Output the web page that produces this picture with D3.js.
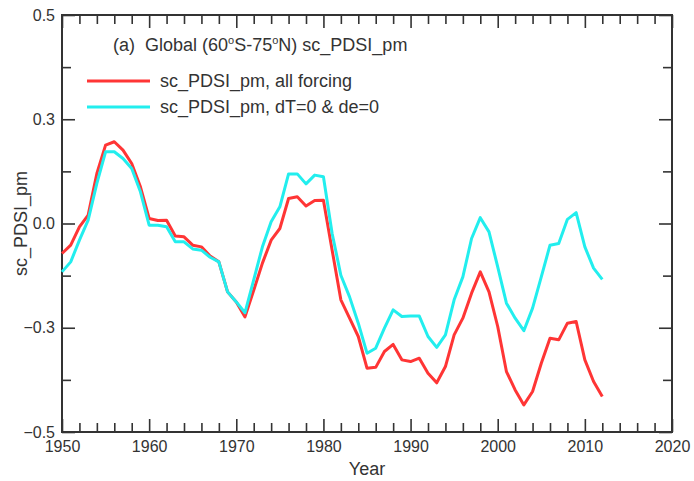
<!DOCTYPE html>
<html>
<head>
<meta charset="utf-8">
<script src="https://cdn.jsdelivr.net/npm/d3@7"></script>
<style>
  body { margin: 0; background: #fff; }
  text { font-family: "Liberation Sans", Arial, Helvetica, sans-serif; fill: #333; }
</style>
</head>
<body>
<div id="chart"></div>
<script>
// data
var years = d3.range(1950, 2013);

var allForcing = [
  -0.072, -0.052, -0.008, 0.020, 0.120, 0.188, 0.196, 0.176, 0.144, 0.088,
  0.012, 0.007, 0.008, -0.030, -0.032, -0.052, -0.056, -0.078, -0.092, -0.164,
  -0.188, -0.224, -0.160, -0.095, -0.040, -0.012, 0.060, 0.064, 0.042, 0.055,
  0.056, -0.064, -0.183, -0.227, -0.271, -0.347, -0.345, -0.307, -0.290, -0.327,
  -0.331, -0.323, -0.359, -0.382, -0.343, -0.267, -0.227, -0.167, -0.116, -0.164,
  -0.247, -0.355, -0.399, -0.435, -0.403, -0.335, -0.275, -0.279, -0.239, -0.235,
  -0.327, -0.379, -0.415
];

var noTempE = [
  -0.116, -0.092, -0.040, 0.008, 0.096, 0.172, 0.172, 0.156, 0.132, 0.076,
  -0.004, -0.004, -0.008, -0.044, -0.044, -0.061, -0.064, -0.081, -0.092, -0.164,
  -0.188, -0.214, -0.135, -0.056, 0.004, 0.040, 0.119, 0.119, 0.095, 0.116,
  0.112, -0.024, -0.124, -0.176, -0.239, -0.311, -0.299, -0.251, -0.207, -0.223,
  -0.222, -0.222, -0.271, -0.297, -0.267, -0.183, -0.128, -0.036, 0.014, -0.020,
  -0.104, -0.191, -0.227, -0.257, -0.203, -0.128, -0.052, -0.048, 0.010, 0.026,
  -0.056, -0.107, -0.134
];

var seriesNames = ["sc_PDSI_pm, all forcing", "sc_PDSI_pm, dT=0 & de=0"];
var seriesColors = ["#ff3535", "#22eeee"];

var xTicks = [1950, 1960, 1970, 1980, 1990, 2000, 2010, 2020];
var yTicks = [-0.5, -0.25, 0, 0.25, 0.5];
var yTickLabels = ["\u22120.5", "\u22120.3", "0.0", "0.3", "0.5"];

var W = 694, H = 481;
var margin = {left: 62, top: 15, right: 22, bottom: 49};
var w = W - margin.left - margin.right,
    h = H - margin.top - margin.bottom;

var svg = d3.select("#chart").append("svg")
    .attr("width", W)
    .attr("height", H);

var g = svg.append("g")
    .attr("transform", "translate(" + margin.left + "," + margin.top + ")");

var x = d3.scaleLinear().domain([1950, 2020]).range([0, w]);
var y = d3.scaleLinear().domain([-0.5, 0.5]).range([h, 0]);

var minorX = d3.range(1950, 2021, 2).filter(function(d) { return d % 10 != 0; });
var minorY = d3.range(-0.5, 0.5001, 0.125).filter(function(d) {
  return yTicks.indexOf(Math.round(d * 1000) / 1000) < 0;
});

function styleAxis(sel) {
  sel.select(".domain").remove();
  sel.selectAll("line").attr("stroke", "#333").attr("stroke-width", 1.6);
  sel.selectAll("text").style("font-size", "16px").attr("fill", "#333");
}

// bottom
g.append("g").attr("transform", "translate(0," + h + ")")
  .call(d3.axisBottom(x).tickValues(xTicks).tickSize(-13).tickPadding(9).tickFormat(d3.format("d")))
  .call(styleAxis);
g.append("g").attr("transform", "translate(0," + h + ")")
  .call(d3.axisBottom(x).tickValues(minorX).tickSize(-9).tickFormat(""))
  .call(styleAxis);
// top
g.append("g")
  .call(d3.axisTop(x).tickValues(xTicks).tickSize(-13).tickFormat(""))
  .call(styleAxis);
g.append("g")
  .call(d3.axisTop(x).tickValues(minorX).tickSize(-9).tickFormat(""))
  .call(styleAxis);
// left
g.append("g")
  .call(d3.axisLeft(y).tickValues(yTicks).tickSize(-13).tickPadding(7)
    .tickFormat(function(d, i) { return yTickLabels[i]; }))
  .call(styleAxis);
g.append("g")
  .call(d3.axisLeft(y).tickValues(minorY).tickSize(-9).tickFormat(""))
  .call(styleAxis);
// right
g.append("g").attr("transform", "translate(" + w + ",0)")
  .call(d3.axisRight(y).tickValues(yTicks).tickSize(-13).tickFormat(""))
  .call(styleAxis);
g.append("g").attr("transform", "translate(" + w + ",0)")
  .call(d3.axisRight(y).tickValues(minorY).tickSize(-9).tickFormat(""))
  .call(styleAxis);

g.append("rect")
  .attr("width", w).attr("height", h)
  .attr("fill", "none")
  .attr("stroke", "#333")
  .attr("stroke-width", 2);

// lines
var line = d3.line()
  .x(function(d, i) { return x(years[i]); })
  .y(function(d) { return y(d); });

[allForcing, noTempE].forEach(function(s, i) {
  g.append("path")
    .datum(s)
    .attr("d", line)
    .attr("fill", "none")
    .attr("stroke", seriesColors[i])
    .attr("stroke-width", 3)
    .attr("stroke-linejoin", "round");
});

// title
var title = svg.append("text")
  .attr("x", 113).attr("y", 51)
  .attr("xml:space", "preserve")
  .style("white-space", "pre")
  .style("font-size", "18px");
title.append("tspan").text("(a)  Global (60");
title.append("tspan").text("o").attr("dy", -7).style("font-size", "11px");
title.append("tspan").text("S-75").attr("dy", 7);
title.append("tspan").text("o").attr("dy", -7).style("font-size", "11px");
title.append("tspan").text("N) sc_PDSI_pm").attr("dy", 7);

// legend
seriesNames.forEach(function(name, i) {
  var ly = 81 + i * 26;
  svg.append("line")
    .attr("x1", 87).attr("x2", 150)
    .attr("y1", ly).attr("y2", ly)
    .attr("stroke", seriesColors[i])
    .attr("stroke-width", 3);
  svg.append("text")
    .attr("x", 160).attr("y", ly + 6)
    .style("font-size", "18px")
    .text(name);
});

// axis titles
svg.append("text")
  .attr("x", margin.left + w / 2).attr("y", 475)
  .attr("text-anchor", "middle")
  .style("font-size", "18px")
  .text("Year");

svg.append("text")
  .attr("transform", "translate(27," + (margin.top + h / 2) + ") rotate(-90)")
  .attr("text-anchor", "middle")
  .style("font-size", "18px")
  .text("sc_PDSI_pm");
</script>
</body>
</html>
